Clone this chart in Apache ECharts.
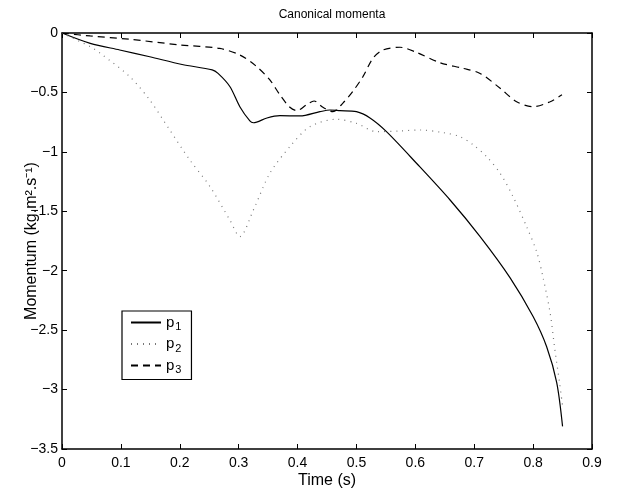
<!DOCTYPE html>
<html>
<head>
<meta charset="utf-8">
<script src="https://cdn.jsdelivr.net/npm/echarts@6/dist/echarts.min.js"></script>
<style>
  html, body { margin: 0; padding: 0; background: #fff; }
  #main { width: 620px; height: 490px; }
</style>
</head>
<body>
<div id="main"></div>
<script>
// p1 (solid)
const p1Time = [0, 0.048, 0.098, 0.149, 0.204, 0.255, 0.265, 0.285, 0.302, 0.319, 0.325, 0.348, 0.37, 0.404, 0.438, 0.455, 0.472, 0.5, 0.523, 0.551, 0.602, 0.659, 0.71, 0.761, 0.80, 0.823, 0.84, 0.85];
const p1Values = [0, -0.087, -0.143, -0.2, -0.265, -0.31, -0.34, -0.45, -0.62, -0.74, -0.755, -0.715, -0.696, -0.698, -0.662, -0.648, -0.653, -0.662, -0.715, -0.83, -1.096, -1.405, -1.713, -2.06, -2.386, -2.64, -2.94, -3.31];
// p2 (dotted)
const p2Time = [0, 0.048, 0.065, 0.115, 0.149, 0.183, 0.217, 0.251, 0.285, 0.302, 0.325, 0.353, 0.387, 0.421, 0.466, 0.5, 0.534, 0.574, 0.608, 0.647, 0.676, 0.698, 0.721, 0.744, 0.766, 0.789, 0.806, 0.817, 0.829, 0.837, 0.845, 0.85];
const p2Values = [0, -0.115, -0.171, -0.367, -0.564, -0.816, -1.068, -1.29, -1.573, -1.713, -1.489, -1.18, -0.956, -0.788, -0.726, -0.76, -0.83, -0.824, -0.816, -0.838, -0.872, -0.94, -1.04, -1.18, -1.377, -1.63, -1.84, -2.06, -2.357, -2.666, -2.946, -3.14];
// p3 (dashed)
const p3Time = [0, 0.048, 0.115, 0.2, 0.268, 0.302, 0.33, 0.353, 0.37, 0.387, 0.399, 0.415, 0.428, 0.443, 0.46, 0.477, 0.494, 0.511, 0.528, 0.545, 0.574, 0.602, 0.642, 0.681, 0.71, 0.744, 0.772, 0.80, 0.829, 0.849];
const p3Values = [0, -0.025, -0.053, -0.10, -0.13, -0.185, -0.28, -0.395, -0.52, -0.625, -0.653, -0.605, -0.572, -0.625, -0.662, -0.59, -0.49, -0.367, -0.213, -0.143, -0.12, -0.163, -0.25, -0.297, -0.34, -0.465, -0.578, -0.62, -0.578, -0.52];

const xTicks = [0, 0.1, 0.2, 0.3, 0.4, 0.5, 0.6, 0.7, 0.8, 0.9];
const yTicks = [0, -0.5, -1, -1.5, -2, -2.5, -3, -3.5];

const zip = (xs, ys) => xs.map((x, i) => [x, ys[i]]);
const minus = v => String(v).replace('-', '\u2212');
const font = 'Liberation Sans, Arial, Helvetica, sans-serif';

const chart = echarts.init(document.getElementById('main'));

const baseX = {
  type: 'value', min: xTicks[0], max: xTicks[xTicks.length - 1], interval: 0.1,
  axisLine: { show: true, onZero: false, lineStyle: { color: '#000', width: 1.5 } },
  axisTick: { show: true, inside: true, length: 5, lineStyle: { color: '#000' } },
  splitLine: { show: false }
};
const baseY = {
  type: 'value', min: yTicks[yTicks.length - 1], max: yTicks[0], interval: 0.5,
  axisLine: { show: true, onZero: false, lineStyle: { color: '#000', width: 1.5 } },
  axisTick: { show: true, inside: true, length: 5, lineStyle: { color: '#000' } },
  splitLine: { show: false }
};

chart.setOption({
  animation: false,
  backgroundColor: '#fff',
  title: {
    text: 'Canonical momenta',
    left: 327, top: 4, textAlign: 'center',
    textStyle: { fontFamily: font, fontSize: 12, fontWeight: 'normal', color: '#000' }
  },
  grid: { left: 62, right: 28, top: 33, bottom: 41, outerBoundsMode: 'none', containLabel: false },
  legend: {
    orient: 'vertical',
    left: 122, top: 311,
    padding: [4, 10, 4, 8],
    itemGap: 4,
    itemWidth: 30, itemHeight: 16,
    borderColor: '#000', borderWidth: 1.2,
    itemStyle: { opacity: 0 },
    data: ['p1', 'p2', 'p3'],
    formatter: name => '{a|p}{b|' + name.slice(1) + '}',
    textStyle: {
      fontFamily: font, color: '#000',
      rich: {
        a: { fontSize: 15, fontFamily: font, color: '#000' },
        b: { fontSize: 11, fontFamily: font, color: '#000', verticalAlign: 'bottom', padding: [9, 0, 0, 1] }
      }
    }
  },
  xAxis: [
    Object.assign({}, baseX, {
      position: 'bottom',
      name: 'Time (s)', nameLocation: 'middle', nameGap: 24, nameMoveOverlap: false,
      nameTextStyle: { fontFamily: font, fontSize: 16, color: '#000' },
      axisLabel: { fontFamily: font, fontSize: 14, color: '#000', margin: 7, formatter: v => minus(v) }
    }),
    Object.assign({}, baseX, { position: 'top', axisLabel: { show: false } })
  ],
  yAxis: [
    Object.assign({}, baseY, {
      position: 'left',
      name: 'Momentum (kg.m\u00b2.s\u207b\u00b9)', nameLocation: 'middle', nameGap: 22, nameMoveOverlap: false,
      nameTextStyle: { fontFamily: font, fontSize: 16, color: '#000' },
      axisLabel: { fontFamily: font, fontSize: 14, color: '#000', margin: 4, formatter: v => minus(v) }
    }),
    Object.assign({}, baseY, { position: 'right', axisLabel: { show: false } })
  ],
  series: [
    {
      name: 'p1', type: 'line', data: zip(p1Time, p1Values),
      smooth: 0.3, showSymbol: false, symbol: 'none',
      lineStyle: { color: '#000', width: 1.2, type: 'solid' }, itemStyle: { color: '#000' }
    },
    {
      name: 'p2', type: 'line', data: zip(p2Time, p2Values),
      smooth: 0.3, showSymbol: false, symbol: 'none',
      lineStyle: { color: '#777', width: 1.2, type: [1, 5] }, itemStyle: { color: '#777' }
    },
    {
      name: 'p3', type: 'line', data: zip(p3Time, p3Values),
      smooth: 0.3, showSymbol: false, symbol: 'none',
      lineStyle: { color: '#000', width: 1.2, type: [7, 5] }, itemStyle: { color: '#000' }
    }
  ]
});
</script>
</body>
</html>
